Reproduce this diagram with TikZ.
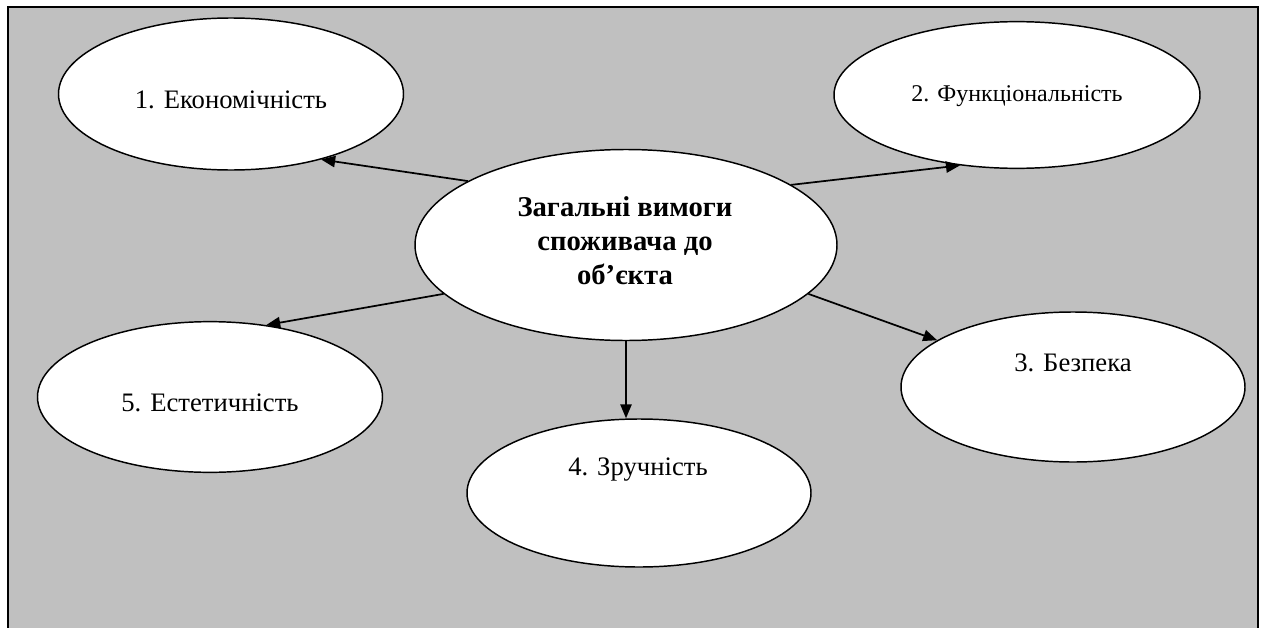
\documentclass[tikz,border=0pt]{standalone}
\usepackage{fontspec}
\setmainfont{Liberation Serif}
\usetikzlibrary{shapes.geometric,arrows.meta}
\definecolor{bggray}{HTML}{C0C0C0}
\tikzset{
  bub/.style={ellipse, draw=black, line width=1.1pt, fill=white, inner sep=0pt},
  lbl/.style={font=\fontsize{20}{24}\selectfont, inner sep=0pt},
  mainlbl/.style={font=\fontsize{21.5}{25.5}\selectfont\bfseries, align=center, inner sep=0pt},
  conn/.style={line width=1.3pt, -{Triangle[length=10.5pt,width=8.5pt]}}
}
\begin{document}
\begin{tikzpicture}[x=0.75pt,y=-0.75pt]
\useasboundingbox (0,0) rectangle (1264,628);
\clip (0,0) rectangle (1264,628);
\fill[white] (0,0) rectangle (1264,628);
\draw[fill=bggray, line width=1.5pt] (8,7) rectangle (1258,660);
\node[bub, minimum width=316.5pt, minimum height=143.25pt] (c) at (626,245) {};
\node[bub, minimum width=258.75pt, minimum height=114pt] (e1) at (231,94) {};
\node[bub, minimum width=274.5pt, minimum height=110pt] (e2) at (1017,95) {};
\node[bub, minimum width=258pt, minimum height=112.5pt] (e3) at (1073,387) {};
\node[bub, minimum width=258pt, minimum height=111pt] (e4) at (639,493) {};
\node[bub, minimum width=258.75pt, minimum height=113pt] (e5) at (210,397) {};
\node[mainlbl] (ct) at (625,241) {Загальні вимоги\\споживача до\\об’єкта};
\node[lbl] (t1) at (231,100) {1. Економічність};
\node[lbl, font=\fontsize{18}{22}\selectfont] (t2) at (1017,96) {2. Функціональність};
\node[lbl] (t3) at (1073,363) {3. Безпека};
\node[lbl] (t4) at (638,470) {4. Зручність};
\node[lbl] (t5) at (210,403) {5. Естетичність};
\draw[conn] (c.158.9) -- (e1.-36.4);
\draw[conn] (c.20.6) -- (e2.231);
\draw[conn] (c.-15.1) -- (e3.161);
\draw[conn] (c.south) -- (c.south |- e4.north);
\draw[conn] (c.195.7) -- (e5.52.3);
\end{tikzpicture}
\end{document}
